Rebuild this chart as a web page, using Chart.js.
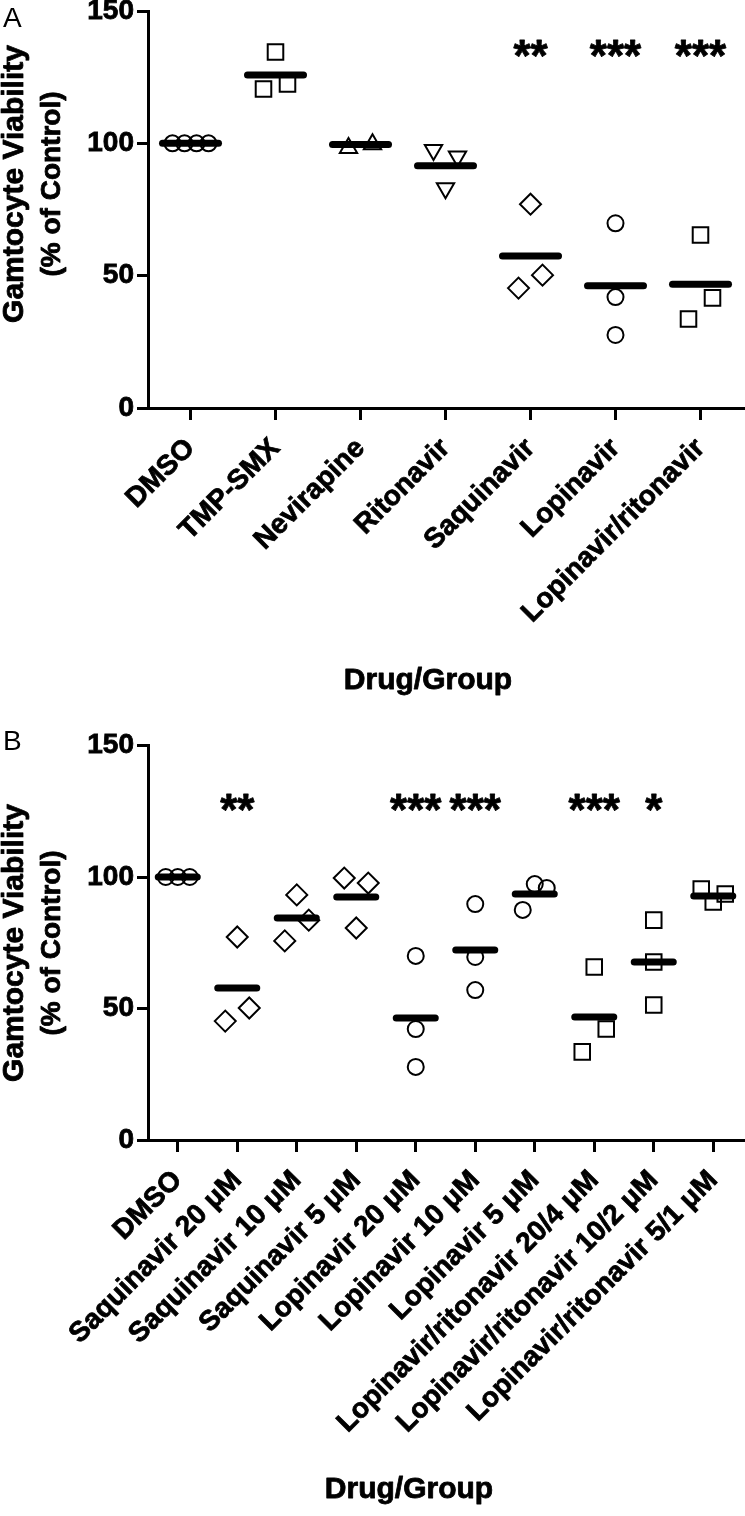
<!DOCTYPE html>
<html>
<head>
<meta charset="utf-8">
<script src="https://cdn.jsdelivr.net/npm/chart.js@4.4.1/dist/chart.umd.min.js"></script>
<style>
  html, body { margin: 0; padding: 0; background: #fff; }
  #wrap { position: relative; width: 745px; height: 1516px; }
  .panel { position: absolute; left: 0; width: 745px; }
  #pa { top: 0; height: 720px; }
  #pb { top: 720px; height: 796px; }
</style>
</head>
<body>
<div id="wrap">
  <div class="panel" id="pa"><canvas id="chartA"></canvas></div>
  <div class="panel" id="pb"><canvas id="chartB"></canvas></div>
</div>
<script>
const FONT = '"Liberation Sans", Arial, Helvetica, sans-serif';

// ---- panel A data ----
const groupsA = ['DMSO', 'TMP-SMX', 'Nevirapine', 'Ritonavir', 'Saquinavir', 'Lopinavir', 'Lopinavir/ritonavir'];
const viabilityA = [
  [100, 100, 100, 100],
  [134.5, 120.5, 122.4],
  [98.2, 99.7],
  [97.5, 95, 83],
  [77, 45.3, 50.2],
  [69.8, 41.9, 27.6],
  [65.4, 33.6, 41.6]
];
const meanA = [100, 125.8, 99.6, 91.5, 57.4, 46.2, 46.8];
const starsA = ['', '', '', '', '**', '***', '***'];
const starLevelA = 136;

// ---- panel B data ----
const groupsB = ['DMSO', 'Saquinavir 20 μM', 'Saquinavir 10 μM', 'Saquinavir 5 μM', 'Lopinavir 20 μM',
  'Lopinavir 10 μM', 'Lopinavir 5 μM', 'Lopinavir/ritonavir 20/4 μM', 'Lopinavir/ritonavir 10/2 μM',
  'Lopinavir/ritonavir 5/1 μM'];
const viabilityB = [
  [100, 100, 100],
  [77.2, 45.2, 50.2],
  [75.7, 93.2, 83.6],
  [99.6, 97.7, 80.6],
  [70, 42.2, 27.8],
  [89.7, 69.6, 57],
  [87.5, 97.3, 95.8],
  [65.8, 33.5, 42.2],
  [83.6, 67.7, 51.3],
  [95.4, 90.5, 93.5]
];
const meanB = [100, 57.8, 84.4, 92.4, 46.4, 72.2, 93.5, 46.8, 67.7, 92.8];
const starsB = ['', '**', '', '', '***', '***', '', '***', '*', ''];
const starLevelB = 128.5;

const yTicks = [0, 50, 100, 150];

// marker shapes per group
const shapesA = ['circle', 'rect', 'triangle', 'triangleDown', 'rectRot', 'circle', 'rect'];
const shapesB = ['circle', 'rectRot', 'rectRot', 'rectRot', 'circle', 'circle', 'circle', 'rect', 'rect', 'rect'];

// Prism-like spread: replicates closer than `gap` units share a row and are pushed sideways
function spreadOffsets(vals, gap) {
  const order = vals.map((v, i) => i).sort((a, b) => vals[a] - vals[b]);
  const clusters = [];
  order.forEach((idx, k) => {
    if (k > 0 && vals[idx] - vals[order[k - 1]] < gap) clusters[clusters.length - 1].push(idx);
    else clusters.push([idx]);
  });
  const off = new Array(vals.length).fill(0);
  clusters.forEach(c => {
    c.sort((a, b) => a - b);
    const k = c.length;
    c.forEach((idx, j) => { off[idx] = k === 2 ? (j === 0 ? -1 : 1) : j - (k - 1) / 2; });
  });
  return off;
}

function markerStyle(shape) {
  switch (shape) {
    case 'circle': return { style: 'circle', r: 8, rot: 0 };
    case 'rect': return { style: 'rect', r: 11, rot: 0 };
    case 'rectRot': return { style: 'rectRot', r: 10.5, rot: 0 };
    case 'triangle': return { style: 'triangle', r: 10, rot: 0 };
    case 'triangleDown': return { style: 'triangle', r: 10, rot: 180 };
  }
}

function boldText(ctx, t, x, y) {
  ctx.fillText(t, x, y);
  ctx.strokeText(t, x, y);
}

function makePanel(canvasId, p) {
  const n = p.groups.length;
  const catPx = 595 / n;
  const step = 12 / catPx;

  const pts = [], styles = [], radii = [], rots = [];
  p.values.forEach((vals, i) => {
    const off = spreadOffsets(vals, 10);
    const m = markerStyle(p.shapes[i]);
    vals.forEach((v, j) => {
      pts.push({ x: i + off[j] * step, y: v });
      styles.push(m.style); radii.push(m.r); rots.push(m.rot);
    });
  });

  const overlay = {
    id: 'overlay_' + canvasId,
    beforeDatasetDraw(chart, args) {
      if (args.index === 0) chart.ctx.lineCap = 'round';
    },
    afterDatasetDraw(chart, args) {
      if (args.index === 0) chart.ctx.lineCap = 'butt';
    },
    afterDraw(chart) {
      const { ctx, scales: { x, y } } = chart;
      ctx.save();
      ctx.fillStyle = '#000';
      ctx.strokeStyle = '#000';
      ctx.lineWidth = 0.8;
      ctx.lineJoin = 'round';
      // significance stars
      ctx.font = `bold 44px ${FONT}`;
      ctx.textAlign = 'center';
      ctx.textBaseline = 'alphabetic';
      p.stars.forEach((s, i) => {
        if (!s) return;
        const mt = ctx.measureText(s);
        const yc = y.getPixelForValue(p.starLevel);
        boldText(ctx, s, x.getPixelForValue(i), yc + (mt.actualBoundingBoxAscent - mt.actualBoundingBoxDescent) / 2);
      });
      // y title, two lines
      ctx.textBaseline = 'middle';
      [['Gamtocyte Viability', 30, 15], ['(% of Control)', 28, 52]].forEach(([t, size, cx]) => {
        ctx.save();
        ctx.font = `bold ${size}px ${FONT}`;
        ctx.translate(cx, p.yTitleCenter);
        ctx.rotate(-Math.PI / 2);
        boldText(ctx, t, 0, 0);
        ctx.restore();
      });
      // x title
      ctx.font = `bold 30px ${FONT}`;
      boldText(ctx, 'Drug/Group', p.xTitleX, p.xTitleY);
      // panel letter
      ctx.font = `28px ${FONT}`;
      ctx.textAlign = 'left';
      ctx.textBaseline = 'alphabetic';
      ctx.fillText(p.letter, 3, p.letterY);
      ctx.restore();
    }
  };

  const axisFont = { family: FONT, size: 28, weight: 'bold' };

  return new Chart(document.getElementById(canvasId), {
    type: 'scatter',
    data: {
      datasets: [
        {
          label: 'mean',
          data: p.means.map((m, i) => ({ x: i, y: m })),
          pointStyle: 'line',
          pointRadius: p.meanR,
          pointHoverRadius: p.meanR,
          pointBorderWidth: 7,
          pointHoverBorderWidth: 7,
          borderColor: '#000',
          backgroundColor: '#000'
        },
        {
          label: 'replicates',
          data: pts,
          pointStyle: styles,
          pointRadius: radii,
          pointHoverRadius: radii,
          rotation: rots,
          pointBorderWidth: 2,
          pointHoverBorderWidth: 2,
          borderColor: '#000',
          backgroundColor: 'rgba(0,0,0,0)'
        }
      ]
    },
    options: {
      responsive: true,
      maintainAspectRatio: false,
      animation: false,
      events: [],
      layout: { autoPadding: false, padding: { top: p.plotTop, right: 2, bottom: 0, left: 0 } },
      plugins: { legend: { display: false }, tooltip: { enabled: false } },
      scales: {
        x: {
          type: 'linear',
          min: -0.5,
          max: n - 0.5,
          afterBuildTicks: s => { s.ticks = p.groups.map((_, i) => ({ value: i })); },
          afterFit: s => {
            s.height = p.xHeight;
            s.paddingLeft = 0; s.paddingRight = 0; s.paddingTop = 0; s.paddingBottom = 0;
          },
          ticks: {
            autoSkip: false,
            minRotation: 45,
            maxRotation: 45,
            padding: 12,
            color: '#000',
            textStrokeColor: '#000',
            textStrokeWidth: 0.8,
            font: axisFont,
            callback: v => p.groups[v]
          },
          grid: { display: true, drawOnChartArea: false, drawTicks: true, tickLength: 12, color: '#000', lineWidth: 3 },
          border: { display: true, color: '#000', width: 3 }
        },
        y: {
          min: 0,
          max: 150,
          afterBuildTicks: s => { s.ticks = yTicks.map(v => ({ value: v })); },
          afterFit: s => {
            s.width = 148;
            s.paddingTop = 0; s.paddingBottom = 0;
          },
          ticks: { color: '#000', textStrokeColor: '#000', textStrokeWidth: 0.8, font: axisFont, padding: 3 },
          grid: { display: true, drawOnChartArea: false, drawTicks: true, tickLength: 11, color: '#000', lineWidth: 3 },
          border: { display: true, color: '#000', width: 3 }
        }
      }
    },
    plugins: [overlay]
  });
}

makePanel('chartA', {
  groups: groupsA, values: viabilityA, means: meanA, stars: starsA, starLevel: starLevelA,
  shapes: shapesA, meanR: 28, plotTop: 11, xHeight: 720 - 408,
  yTitleCenter: 184, xTitleX: 428, xTitleY: 681, letter: 'A', letterY: 27
});

makePanel('chartB', {
  groups: groupsB, values: viabilityB, means: meanB, stars: starsB, starLevel: starLevelB,
  shapes: shapesB, meanR: 19.5, plotTop: 25.5, xHeight: 796 - 420,
  yTitleCenter: 223, xTitleX: 409, xTitleY: 770, letter: 'B', letterY: 30
});
</script>
</body>
</html>
